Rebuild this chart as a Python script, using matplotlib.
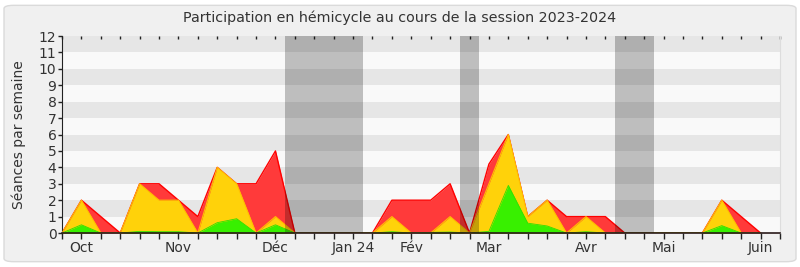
import numpy as np
import matplotlib
matplotlib.use('Agg')
from matplotlib import pyplot as plt
from matplotlib.patches import FancyBboxPatch

# one value per week, starting week 0 at the left edge of the plot
weeks = np.arange(37)
presences = [0, 2, 1, 0, 3, 3, 2, 1, 4, 3, 3, 5, 0, 0, 0, 0, 0, 2, 2, 2, 3, 0,
             4.2, 6, 1, 2, 1, 1, 1, 0, 0, 0, 0, 0, 2, 1, 0]
interventions = [0, 2, 0, 0, 3, 2, 2, 0, 4, 3, 0, 1, 0, 0, 0, 0, 0, 1, 0, 0, 1, 0,
                 3, 6, 1, 2, 0, 1, 0, 0, 0, 0, 0, 0, 2, 0, 0]
questions = [0, 0.5, 0, 0, 0.1, 0.08, 0.08, 0, 0.63, 0.87, 0, 0.5, 0, 0, 0, 0, 0,
             0.08, 0, 0.04, 0.06, 0, 0.1, 2.9, 0.6, 0.43, 0, 0.08, 0, 0, 0, 0, 0,
             0, 0.45, 0, 0]

monthWeeks = [1, 6, 11, 15, 18, 22, 27, 31, 36]
monthLabels = ['Oct', 'Nov', 'Déc', 'Jan 24', 'Fév', 'Mar', 'Avr', 'Mai', 'Juin']
vacations = [(11.5, 15.5), (20.5, 21.5), (28.5, 30.5)]
nWeeks = 37

fig = plt.figure(figsize=(8, 2.67), dpi=100)
fig.patch.set_facecolor('white')
frame = FancyBboxPatch((0.005, 0.02), 0.99, 0.96, boxstyle='round,pad=0,rounding_size=0.012',
                       transform=fig.transFigure, facecolor='#f0f0f0', edgecolor='#dadada',
                       linewidth=1, zorder=-10)
fig.patches.append(frame)

ax = fig.add_axes([0.0775, 0.1273, 0.8975, 0.7377])
ax.set_facecolor('#f9f9f9')
for y in range(1, 12, 2):
    ax.axhspan(y, y + 1, color='#e6e6e6', zorder=0, linewidth=0)

ax.fill_between(weeks, presences, color='#ff3a3a', linewidth=0, zorder=2)
ax.plot(weeks, presences, color='#ff0000', linewidth=1, zorder=2.1)
ax.fill_between(weeks, interventions, color='#ffd20a', linewidth=0, zorder=3)
ax.plot(weeks, interventions, color='#ffc000', linewidth=0.8, zorder=3.1)
ax.fill_between(weeks, questions, color='#38f000', linewidth=0, zorder=4)
ax.plot(weeks, questions, color='#2ee000', linewidth=0.6, zorder=4.1)

for start, end in vacations:
    ax.axvspan(start, end, color='black', alpha=0.235, linewidth=0, zorder=5)

ax.set_xlim(0, nWeeks)
ax.set_ylim(0, 12)
ax.set_yticks(range(13))
ax.set_xticks(range(nWeeks + 1))
ax.set_xticklabels([monthLabels[monthWeeks.index(w)] if w in monthWeeks else ''
                    for w in range(nWeeks + 1)])
ax.tick_params(axis='x', direction='out', length=4, width=1, colors='#222222',
               labelcolor='#333333', labelsize=10, pad=2)
ax.tick_params(axis='y', direction='out', length=3, width=1, colors='#222222',
               labelcolor='#333333', labelsize=10, pad=1)

top = ax.secondary_xaxis('top')
top.set_xticks(range(nWeeks + 1))
top.set_xticklabels([])
top.tick_params(direction='in', length=2, width=1, colors='#222222')
top.spines['top'].set_visible(False)

ax.spines['top'].set_visible(False)
ax.spines['right'].set_color('#dddddd')
ax.spines['left'].set_color('#222222')
ax.spines['bottom'].set_color('#2a1a1a')
ax.spines['bottom'].set_linewidth(1.2)
ax.spines['bottom'].set_zorder(6)

ax.set_ylabel('Séances par semaine', fontsize=10, color='#333333', labelpad=9)
fig.text(0.5, 0.935, 'Participation en hémicycle au cours de la session 2023-2024',
         ha='center', va='center', fontsize=10.3, color='#333333')

fig.savefig('out.png', dpi=100, facecolor=fig.get_facecolor())
